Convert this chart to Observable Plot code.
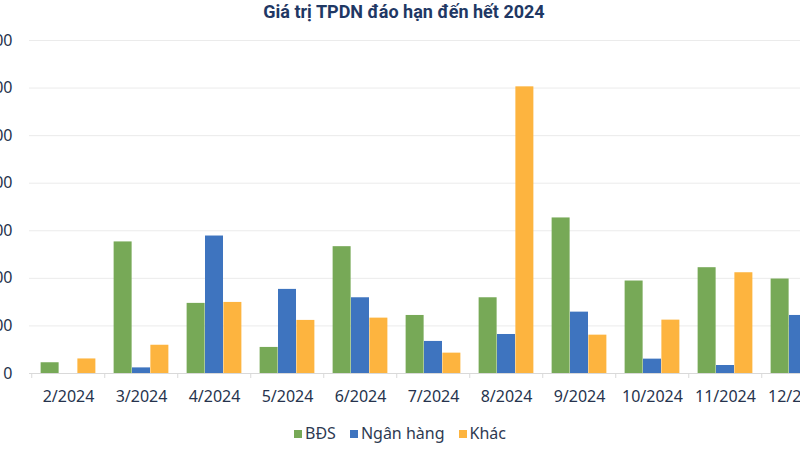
<!DOCTYPE html>
<html><head><meta charset="utf-8">
<script src="https://cdn.jsdelivr.net/npm/d3@7"></script>
<script src="https://cdn.jsdelivr.net/npm/@observablehq/plot@0.6"></script>
<style>
body{margin:0;background:#fff;}
#wrap{position:relative;width:800px;height:450px;overflow:hidden;background:#fff;}
#title{position:absolute;z-index:2;top:1px;left:4px;width:800px;text-align:center;font-weight:bold;font-size:18px;font-family:Roboto,sans-serif;color:#1f3864;}
#chart{position:absolute;z-index:1;left:-40px;top:0;width:900px;}
#chart svg{max-width:none !important;}
#legend{position:absolute;z-index:2;top:422px;left:0;width:800px;text-align:center;font-family:"Noto Sans",sans-serif;font-size:16px;color:#2e3a52;}
#legend span.item{margin:0 7px;white-space:nowrap;}
#legend span.sw{display:inline-block;width:8px;height:8px;margin-right:3px;vertical-align:1px;}
</style></head>
<body>
<div id="wrap">
  <div id="title">Giá trị TPDN đáo hạn đến hết 2024</div>
  <div id="chart"></div>
  <div id="legend"></div>
</div>
<script>
const months = ["2/2024","3/2024","4/2024","5/2024","6/2024","7/2024","8/2024","9/2024","10/2024","11/2024","12/2024"];
const seriesNames = ["BĐS","Ngân hàng","Khác"];
const colors = ["#77a957","#3e74bf","#fdb43f"];
const bds      = [1130, 13830, 7370, 2740, 13330, 6100, 7960, 16350, 9720, 11120, 9930];
const nganHang = [0,     590, 14450, 8840,  7960, 3370, 4100,  6450, 1510,   840, 6100];
const khac     = [1530, 2970,  7470, 5580,  5820, 2140, 30130, 4030, 5610, 10590, 4000];
const yTicks = [0, 5000, 10000, 15000, 20000, 25000, 30000, 35000];

const seriesValues = [bds, nganHang, khac];
const data = [];
seriesNames.forEach((s, si) => months.forEach((m, mi) => data.push({month: m, series: s, value: seriesValues[si][mi]})));

const fmt = d => d3.format(",")(d).replace(/,/g, ".");
const font = '"Noto Sans", sans-serif';
const textColor = "#26334d";
const step = 808.5 / months.length;
const bw = step * 0.25;

const plot = Plot.plot({
  width: 900,
  height: 410,
  marginTop: 40,
  marginBottom: 37,
  marginLeft: 69,
  marginRight: 22.5,
  style: {fontFamily: font, fontSize: "16px", color: textColor, background: "transparent", maxWidth: "none"},
  x: {type: "band", domain: months, paddingInner: 0.75, paddingOuter: 0.375, label: null},
  y: {domain: [0, 35000], label: null},
  color: {domain: seriesNames, range: colors},
  marks: [
    Plot.gridY(yTicks, {stroke: "#ebebeb", strokeOpacity: 1}),
    ...seriesNames.map((s, i) => Plot.barY(data.filter(d => d.series === s), {
      x: "month", y: "value", fill: "series", dx: (i - 1) * bw, insetLeft: 0, insetRight: 0
    })),
    Plot.ruleY([0], {stroke: "#d9d9d9"}),
    Plot.axisX({ticks: months, tickSize: 5, tickFormat: () => "", dx: -step / 2, stroke: "#d9d9d9"}),
    Plot.axisX({ticks: months, tickSize: 0, tickPadding: 17, fill: textColor, fontSize: 16}),
    Plot.axisY({ticks: yTicks, tickSize: 0, tickPadding: 17, tickFormat: fmt, fill: textColor, fontSize: 16, label: null})
  ]
});
document.getElementById("chart").appendChild(plot);

const leg = document.getElementById("legend");
seriesNames.forEach((s, i) => {
  const item = document.createElement("span");
  item.className = "item";
  const sw = document.createElement("span");
  sw.className = "sw";
  sw.style.background = colors[i];
  item.appendChild(sw);
  item.appendChild(document.createTextNode(s));
  leg.appendChild(item);
});
</script>
</body></html>
